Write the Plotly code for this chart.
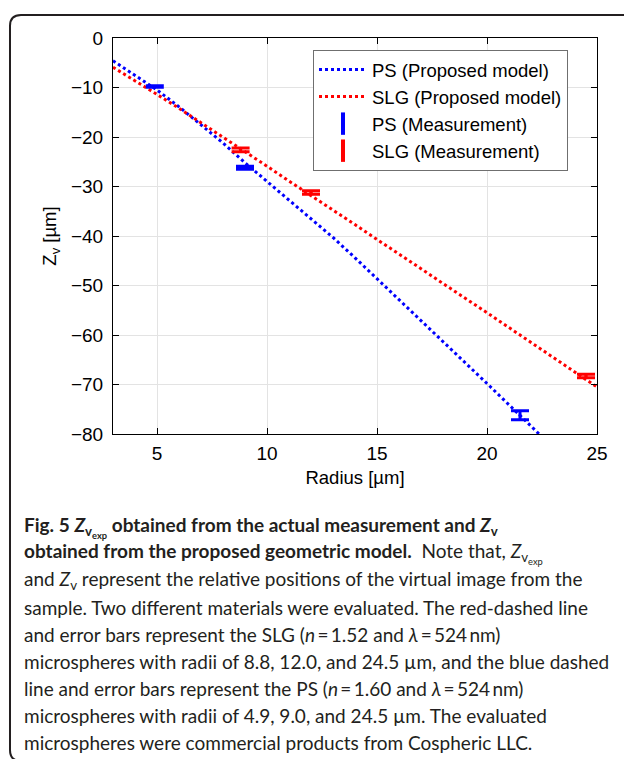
import plotly.graph_objects as go

# ---------------- data ----------------
ps_model_x = [3, 4, 5, 6, 7, 8, 9, 10, 11, 12, 13, 14, 15, 16, 17, 18, 19, 20, 21, 22, 22.6]
ps_model_y = [-4.6, -7.5, -10.5, -13.9, -17.5, -21.2, -25.2, -29.0, -32.8, -36.5, -40.3,
              -44.4, -48.6, -52.8, -57.0, -61.2, -65.5, -69.8, -74.1, -78.4, -81.0]
slg_model_x = [3, 4, 5, 6, 7, 8, 9, 10, 11, 12, 13, 14, 15, 16, 17, 18, 19, 20, 21, 22, 23, 24, 25]
slg_model_y = [-5.9, -8.6, -11.4, -14.2, -17.1, -20.0, -23.0, -25.9, -28.9, -31.8, -34.8, -37.7,
               -40.7, -43.6, -46.6, -49.6, -52.5, -55.5, -58.5, -61.5, -64.5, -67.5, -70.5]

ps_meas_x = [4.9, 9.0, 21.5]
ps_meas_y = [-9.8, -26.2, -76.2]
ps_meas_err = [0.15, 0.3, 0.9]

slg_meas_x = [8.8, 12.0, 24.5]
slg_meas_y = [-22.6, -31.2, -68.3]
slg_meas_err = [0.4, 0.35, 0.35]

x_ticks = [5, 10, 15, 20, 25]
y_ticks = [0, -10, -20, -30, -40, -50, -60, -70, -80]

caption_lines = [
    "<b>Fig. 5 <i>Z</i><sub>v<sub>exp</sub></sub> obtained from the actual measurement and <i>Z</i><sub>v</sub></b>",
    "<b>obtained from the proposed geometric model.</b>\u00a0\u00a0Note that, <i>Z</i><sub>v<sub>exp</sub></sub>",
    "and <i>Z</i><sub>v</sub> represent the relative positions of the virtual image from the",
    "sample. Two different materials were evaluated. The red-dashed line",
    "and error bars represent the SLG (<i>n</i>\u2009=\u20091.52 and <i>\u03bb</i>\u2009=\u2009524\u2009nm)",
    "microspheres with radii of 8.8, 12.0, and 24.5 \u00b5m, and the blue dashed",
    "line and error bars represent the PS (<i>n</i>\u2009=\u20091.60 and <i>\u03bb</i>\u2009=\u2009524\u2009nm)",
    "microspheres with radii of 4.9, 9.0, and 24.5 \u00b5m. The evaluated",
    "microspheres were commercial products from Cospheric LLC.",
]
caption_y_px = [527, 553, 580, 607, 634, 661, 688, 715, 742]

BLUE = "#0000ff"
RED = "#ff0000"
FAM = "Liberation Sans, Arial, sans-serif"
TICKFONT = dict(family=FAM, size=19, color="#000000")
TITLEFONT = dict(family=FAM, size=18.5, color="#000000")
LEGFONT = dict(family=FAM, size=18.5, color="#000000")

W, H = 624, 759
ML, MR, MT, MB = 113, 27, 38, 325
PW, PH = W - ML - MR, H - MT - MB


def px2paper(px, py):
    return (px - ML) / PW, (H - MB - py) / PH


fig = go.Figure()

fig.add_trace(go.Scatter(x=ps_model_x, y=ps_model_y, mode="lines", name="PS (Proposed model)",
                         line=dict(color=BLUE, width=3, dash="3px,3px")))
fig.add_trace(go.Scatter(x=slg_model_x, y=slg_model_y, mode="lines", name="SLG (Proposed model)",
                         line=dict(color=RED, width=3, dash="3px,3px")))

fig.add_trace(go.Scatter(x=ps_meas_x, y=ps_meas_y, mode="markers", showlegend=False,
                         marker=dict(color=BLUE, size=3),
                         error_y=dict(type="data", array=ps_meas_err, color=BLUE, thickness=3, width=9)))
fig.add_trace(go.Scatter(x=slg_meas_x, y=slg_meas_y, mode="markers", showlegend=False,
                         marker=dict(color=RED, size=3),
                         error_y=dict(type="data", array=slg_meas_err, color=RED, thickness=3, width=9)))

# legend entries for the measurements
fig.add_trace(go.Scatter(x=[None], y=[None], mode="markers", name="PS (Measurement)",
                         marker=dict(symbol="line-ns", size=16, color=BLUE,
                                     line=dict(color=BLUE, width=4))))
fig.add_trace(go.Scatter(x=[None], y=[None], mode="markers", name="SLG (Measurement)",
                         marker=dict(symbol="line-ns", size=16, color=RED,
                                     line=dict(color=RED, width=4))))

axis_common = dict(showline=True, linecolor="#000000", linewidth=1, mirror="ticks",
                   ticks="inside", ticklen=6, tickwidth=1, tickcolor="#000000",
                   showgrid=True, gridcolor="#e3e3e3", gridwidth=1, zeroline=False,
                   tickfont=TICKFONT)

fig.update_xaxes(range=[3, 25], tickvals=x_ticks, ticklabelstandoff=2,
                 title=dict(text="Radius [\u00b5m]", font=TITLEFONT, standoff=8), **axis_common)
fig.update_yaxes(range=[-80, 0], tickvals=y_ticks, ticklabelstandoff=5,
                 title=dict(text="Z<sub>v</sub> [\u00b5m]", font=TITLEFONT, standoff=9), **axis_common)

# frame around the figure + caption
left, top, right, bottom, r = 10, 15, 640, 761, 11
pts = {
    "a": px2paper(right, top), "b": px2paper(left + r, top), "c": px2paper(left, top),
    "d": px2paper(left, top + r), "e": px2paper(left, bottom - r), "f": px2paper(left, bottom),
    "g": px2paper(left + r, bottom), "h": px2paper(right, bottom),
}
f = lambda p: f"{p[0]:.5f},{p[1]:.5f}"
path = (f"M{f(pts['a'])} L{f(pts['b'])} Q{f(pts['c'])} {f(pts['d'])} "
        f"L{f(pts['e'])} Q{f(pts['f'])} {f(pts['g'])} L{f(pts['h'])}")
fig.add_shape(type="path", path=path, xref="paper", yref="paper",
              line=dict(color="#231f20", width=2))

cx, _ = px2paper(22, 0)
for txt, ypx in zip(caption_lines, caption_y_px):
    _, cy = px2paper(0, ypx)
    fig.add_annotation(text=txt, x=cx, y=cy, xref="paper", yref="paper",
                       xanchor="left", yanchor="middle", showarrow=False, align="left",
                       font=dict(family="Lato, sans-serif", size=19, color="#231f20"))

lx, ly = px2paper(313, 50)
fig.update_layout(
    width=W, height=H,
    margin=dict(l=ML, r=MR, t=MT, b=MB, pad=0),
    paper_bgcolor="#ffffff", plot_bgcolor="#ffffff",
    showlegend=True,
    legend=dict(x=lx, y=ly, xanchor="left", yanchor="top", bgcolor="#ffffff",
                bordercolor="#6f6f6f", borderwidth=1, font=LEGFONT, itemwidth=48,
                tracegroupgap=0),
)

fig.write_html("out.html")
